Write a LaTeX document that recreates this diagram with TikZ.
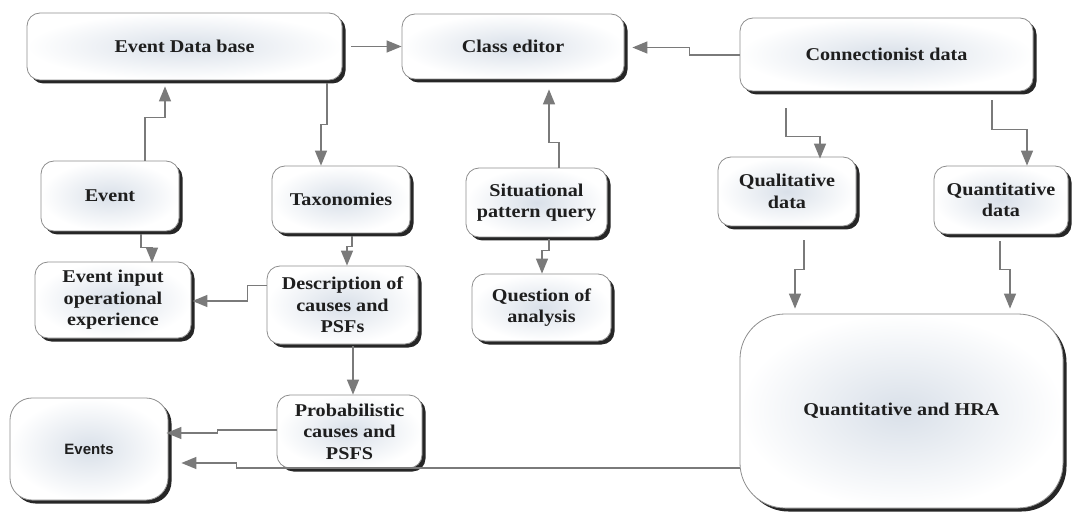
\documentclass[tikz,border=0pt]{standalone}
\usepackage{fontspec}
\setmainfont{Liberation Serif}[FakeStretch=1.12]
\newfontfamily\labelsans{Liberation Sans}
\usetikzlibrary{arrows.meta,calc,shadows}
\definecolor{linegray}{HTML}{7A7A7A}
\definecolor{boxcore}{HTML}{D9E0E9}
\definecolor{ink}{HTML}{1E1E1E}
\definecolor{rimgray}{HTML}{8E8E8E}
\tikzset{
  panel/.style={draw=rimgray, line width=0.8pt, rounded corners=13pt, fill=white,
    path picture={\shade[inner color=boxcore, outer color=white]
      (path picture bounding box.south west) rectangle (path picture bounding box.north east);},
    drop shadow={shadow xshift=3.5pt,shadow yshift=-3.5pt,fill=black!85,opacity=1},
    font=\bfseries\fontsize{18}{21.5}\selectfont, text=ink, align=center, inner sep=0pt},
  conn/.style={draw=linegray, line width=1.3pt, -{Triangle[length=15pt,width=12pt]}}
}
\begin{document}
\begin{tikzpicture}[x=1pt,y=-1pt]
\useasboundingbox[fill=white] (0,0) rectangle (1074,513);

% boxes
\node[panel, minimum width=315pt, minimum height=67pt] (edb) at (184.5,46.5) {Event Data base};
\node[panel, minimum width=222pt, minimum height=65pt] (ce) at (513,46.5) {Class editor};
\node[panel, minimum width=293pt, minimum height=73pt] (cd) at (886.5,54.5) {Connectionist data};
\node[panel, minimum width=138pt, minimum height=70pt] (event) at (110,196) {Event};
\node[panel, minimum width=138pt, minimum height=67pt] (tax) at (341,199.5) {Taxonomies};
\node[panel, minimum width=141pt, minimum height=69pt] (spq) at (536.5,202.5) {Situational\\pattern query};
\node[panel, minimum width=138pt, minimum height=69pt] (qual) at (787,191.5) {Qualitative\\data};
\node[panel, minimum width=134pt, minimum height=68pt] (quant) at (1001,200) {Quantitative\\data};
\node[panel, minimum width=156pt, minimum height=76pt] (eioe) at (113,300) {Event input\\operational\\experience};
\node[panel, minimum width=151pt, minimum height=78pt] (desc) at (342.5,305) {Description of\\causes and\\PSFs};
\node[panel, minimum width=139pt, minimum height=67pt] (qoa) at (541.5,307.5) {Question of\\analysis};
\node[panel, rounded corners=45pt, minimum width=323pt, minimum height=194pt] (qhra) at (901.5,411) {Quantitative and HRA};
\node[panel, rounded corners=22pt, minimum width=158pt, minimum height=102pt,
      font=\labelsans\bfseries\fontsize{15}{17}\selectfont] (events) at (89,449) {Events};
\node[panel, minimum width=145pt, minimum height=73pt] (prob) at (349.5,431.5) {Probabilistic\\causes and\\PSFS};

% connectors
\draw[conn] ($(edb.east)+(9,0)$) -- ($(ce.west)+(0,0)$);
\draw[conn] ($(cd.west)+(0,0.5)$) -| ($(ce.east)+(65,1)$) -- ($(ce.east)+(8,1)$);
\draw[conn] ($(event.north)+(35,0)$) |- ($(edb.south)+(-19.5,37)$) -- ($(edb.south)+(-19.5,6)$);
\draw[conn] ($(edb.south)+(142.5,3)$) |- ($(tax.north)+(-20,-41)$) -- ($(tax.north)+(-20,0)$);
\draw[conn] ($(spq.north)+(22.5,0)$) |- ($(ce.south)+(36,63)$) -- ($(ce.south)+(36,10)$);
\draw[conn] ($(cd.south)+(-100.5,17)$) |- ($(qual.north)+(33,-20)$) -- ($(qual.north)+(33,2)$);
\draw[conn] ($(cd.south)+(105.5,9)$) |- ($(quant.north)+(26,-36)$) -- ($(quant.north)+(26,0)$);
\draw[conn] ($(event.south)+(31,3)$) |- ($(eioe.north)+(39,-14)$) -- ($(eioe.north)+(39,1)$);
\draw[conn] ($(tax.south)+(11,3)$) |- ($(desc.north)+(4.5,-19)$) -- ($(desc.north)+(4.5,0)$);
\draw[conn] ($(spq.south)+(12.5,2)$) |- ($(qoa.north)+(0.5,-23)$) -- ($(qoa.north)+(0.5,0)$);
\draw[conn] ($(desc.west)+(0,-19.5)$) -| ($(eioe.east)+(56,1)$) -- ($(eioe.east)+(1,1)$);
\draw[conn] ($(desc.south)+(10.5,2)$) -- ($(prob.north)+(3.5,0)$);
\draw[conn] ($(prob.west)+(0,-1.5)$) -| ($(events.east)+(49,-16)$) -- ($(events.east)+(-2,-16)$);
\draw[conn] ($(qhra.west)+(0,57)$) -| ($(events.east)+(68,14)$) -- ($(events.east)+(13,14)$);
\draw[conn] ($(qual.south)+(17,14)$) |- ($(qhra.north)+(-106.5,-44)$) -- ($(qhra.north)+(-106.5,-5)$);
\draw[conn] ($(quant.south)+(-1,7)$) |- ($(qhra.north)+(108.5,-44)$) -- ($(qhra.north)+(108.5,-5)$);
\end{tikzpicture}
\end{document}
